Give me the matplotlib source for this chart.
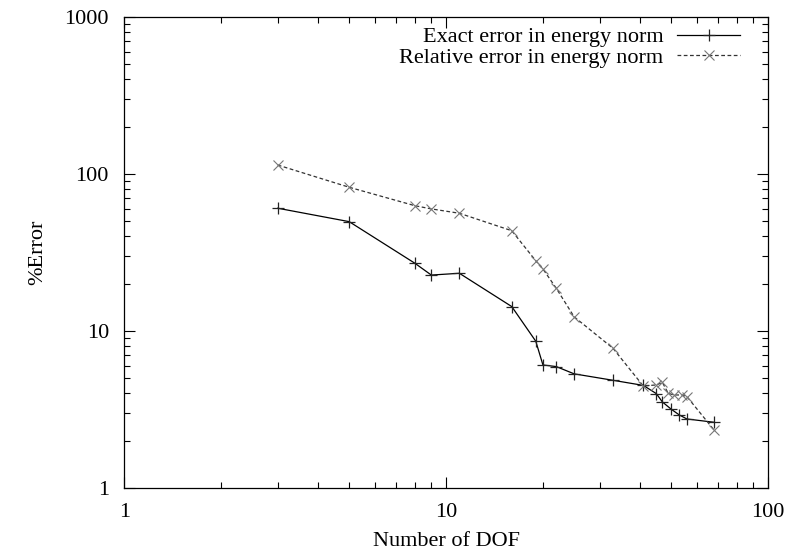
import numpy as np
import matplotlib
matplotlib.use("Agg")
import matplotlib.pyplot as plt
from matplotlib.ticker import FixedLocator, FixedFormatter, LogLocator, NullFormatter

plt.rcParams['font.family'] = ['Liberation Serif', 'DejaVu Serif']

# data
dof_exact = [3, 5, 8, 9, 11, 16, 19, 20, 22, 25, 33, 41, 45, 47, 50, 53, 56, 68]
err_exact = [60.5, 49.7, 27.0, 22.7, 23.3, 14.3, 8.6, 6.07, 5.93, 5.33, 4.85,
             4.50, 3.99, 3.53, 3.18, 2.92, 2.75, 2.62]

dof_rel = [3, 5, 8, 9, 11, 16, 19, 20, 22, 25, 33, 41, 45, 47, 49, 51, 54, 56, 68]
err_rel = [114, 82.3, 62.8, 59.9, 56.2, 43.5, 28.0, 24.8, 18.7, 12.3, 7.76,
           4.46, 4.53, 4.70, 4.01, 3.91, 3.91, 3.82, 2.34]

fig = plt.figure(figsize=(7.86, 5.57), dpi=100)
ax = fig.add_axes([0.158, 0.124, 0.819, 0.8455])

ax.plot(dof_exact, err_exact, color='black', lw=0.9, marker='+', ms=9,
        mew=0.9, mec='#222222', label='Exact error in energy norm')
ax.plot(dof_rel, err_rel, color='#333333', lw=0.9, ls=(0, (3, 2)), marker='x',
        ms=7.5, mew=0.8, mec='#777777', label='Relative error in energy norm')

ax.set_xscale('log')
ax.set_yscale('log')
ax.set_xlim(1, 100)
ax.set_ylim(1, 1000)

ax.xaxis.set_major_locator(FixedLocator([1, 10, 100]))
ax.xaxis.set_major_formatter(FixedFormatter(['1', '10', '100']))
ax.yaxis.set_major_locator(FixedLocator([1, 10, 100, 1000]))
ax.yaxis.set_major_formatter(FixedFormatter(['1', '10', '100', '1000']))
ax.xaxis.set_minor_locator(LogLocator(base=10, subs=np.arange(2, 10)))
ax.yaxis.set_minor_locator(LogLocator(base=10, subs=np.arange(2, 10)))
ax.xaxis.set_minor_formatter(NullFormatter())
ax.yaxis.set_minor_formatter(NullFormatter())

ax.tick_params(which='both', direction='in', top=True, right=True, labelsize=16, width=0.8)
ax.tick_params(which='major', length=8, pad=11)
ax.tick_params(which='minor', length=4)
for s in ax.spines.values():
    s.set_linewidth(0.9)

ax.set_xlabel('Number of DOF', fontsize=16, labelpad=7)
ax.set_ylabel('%Error', fontsize=16, labelpad=12)

ax.legend(loc='upper right', bbox_to_anchor=(0.970, 0.998), frameon=False,
          markerfirst=False, fontsize=16, handlelength=2.8, handletextpad=0.63,
          labelspacing=0.0, borderaxespad=0.0)

fig.savefig('out.png', dpi=100)
